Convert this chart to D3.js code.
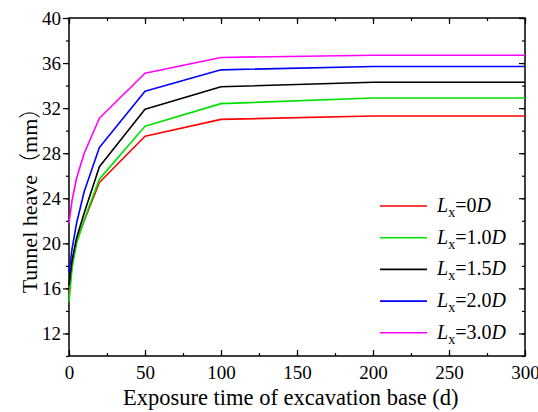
<!DOCTYPE html>
<html>
<head>
<meta charset="utf-8">
<script src="https://cdn.jsdelivr.net/npm/d3@7/dist/d3.min.js"></script>
<style>
  html, body { margin: 0; padding: 0; background: #fff; }
  svg text { font-family: "Liberation Serif", "Times New Roman", "DejaVu Serif", serif; }
</style>
</head>
<body>
<svg id="chart" width="538" height="412"></svg>
<script>
// Exposure time (days)
const days = [0, 2, 5, 10, 20, 50, 100, 200, 300];

// Tunnel heave (mm) for each offset distance
const heave0D  = [15.5, 18.2, 20.2, 22.0, 25.4, 29.5, 31.0, 31.3, 31.3];
const heave10D = [14.8, 17.8, 20.0, 22.1, 25.7, 30.4, 32.4, 32.9, 32.9];
const heave15D = [16.3, 18.5, 20.5, 22.7, 26.8, 31.9, 33.9, 34.3, 34.3];
const heave20D = [17.4, 19.5, 21.8, 24.6, 28.5, 33.5, 35.4, 35.7, 35.7];
const heave30D = [21.8, 23.8, 25.8, 28.0, 31.1, 35.1, 36.5, 36.7, 36.7];

const seriesLabels = ["0", "1.0", "1.5", "2.0", "3.0"];
const seriesColors = ["#ff0000", "#00e000", "#000000", "#0000ff", "#ff00ff"];
const seriesValues = [heave0D, heave10D, heave15D, heave20D, heave30D];

const xTicks = [0, 50, 100, 150, 200, 250, 300];
const yTicks = [12, 16, 20, 24, 28, 32, 36, 40];

const svg = d3.select("#chart");
const m = { left: 69, right: 525, top: 18, bottom: 356 };

const x = d3.scaleLinear().domain([0, 300]).range([m.left, m.right]);
const y = d3.scaleLinear().domain([10, 40]).range([m.bottom, m.top]);

const minorX = d3.range(0, 301, 25);
const minorY = d3.range(10, 41, 2);

// Frame
svg.append("rect")
  .attr("x", m.left).attr("y", m.top)
  .attr("width", m.right - m.left).attr("height", m.bottom - m.top)
  .attr("fill", "none").attr("stroke", "#000").attr("stroke-width", 1.5);

function styleAxis(g) {
  g.attr("font-family", null).attr("font-size", null);
  g.select(".domain").remove();
  g.selectAll("line").attr("stroke", "#000").attr("stroke-width", 1.2);
  g.selectAll("text").attr("font-size", 19).attr("fill", "#000");
}

// Bottom axis: inward ticks
const gB = svg.append("g").attr("transform", `translate(0,${m.bottom})`);
gB.call(d3.axisBottom(x).tickValues(minorX).tickSize(-3).tickFormat(""));
styleAxis(gB);
const gB2 = svg.append("g").attr("transform", `translate(0,${m.bottom})`);
gB2.call(d3.axisBottom(x).tickValues(xTicks).tickSize(-6).tickPadding(10).tickFormat(d3.format("d")));
styleAxis(gB2);

// Top axis: inward ticks, no labels
const gT = svg.append("g").attr("transform", `translate(0,${m.top})`);
gT.call(d3.axisTop(x).tickValues(minorX).tickSize(-3).tickFormat(""));
styleAxis(gT);
const gT2 = svg.append("g").attr("transform", `translate(0,${m.top})`);
gT2.call(d3.axisTop(x).tickValues(xTicks).tickSize(-6).tickFormat(""));
styleAxis(gT2);

// Left axis: outward ticks
const gL = svg.append("g").attr("transform", `translate(${m.left},0)`);
gL.call(d3.axisLeft(y).tickValues(minorY).tickSize(3).tickFormat(""));
styleAxis(gL);
const gL2 = svg.append("g").attr("transform", `translate(${m.left},0)`);
gL2.call(d3.axisLeft(y).tickValues(yTicks).tickSize(6).tickPadding(2).tickFormat(d3.format("d")));
styleAxis(gL2);

// Right axis: inward ticks, no labels
const gR = svg.append("g").attr("transform", `translate(${m.right},0)`);
gR.call(d3.axisRight(y).tickValues(minorY).tickSize(-3).tickFormat(""));
styleAxis(gR);
const gR2 = svg.append("g").attr("transform", `translate(${m.right},0)`);
gR2.call(d3.axisRight(y).tickValues(yTicks).tickSize(-6).tickFormat(""));
styleAxis(gR2);

// Curves (straight segments between computed times)
const line = d3.line().x((d, i) => x(days[i])).y(d => y(d));
svg.append("g").selectAll("path")
  .data(seriesValues)
  .join("path")
  .attr("d", d => line(d))
  .attr("fill", "none")
  .attr("stroke", (d, i) => seriesColors[i])
  .attr("stroke-width", 1.6)
  .attr("stroke-linejoin", "round");

// Legend
const leg = svg.append("g");
seriesLabels.forEach((lab, i) => {
  const yy = 206 + i * 31.7;
  leg.append("line")
    .attr("x1", 380).attr("x2", 427).attr("y1", yy).attr("y2", yy)
    .attr("stroke", seriesColors[i]).attr("stroke-width", 1.6);
  const t = leg.append("text")
    .attr("x", 437).attr("y", yy + 6)
    .attr("font-size", 20).attr("fill", "#000");
  t.append("tspan").attr("font-style", "italic").text("L");
  t.append("tspan").attr("font-size", 14).attr("dy", 5).text("x");
  t.append("tspan").attr("dy", -5).text("=" + lab);
  t.append("tspan").attr("font-style", "italic").text("D");
});

// Axis titles
svg.append("text")
  .attr("x", 123).attr("y", 405)
  .attr("font-size", 22.5).attr("fill", "#000")
  .text("Exposure time of excavation base (d)");

const cjk = "'Noto Sans CJK SC', sans-serif";
const yt = svg.append("text")
  .attr("transform", "translate(37,195) rotate(-90)")
  .attr("text-anchor", "middle").attr("font-size", 22).attr("fill", "#000");
yt.append("tspan").text("Tunnel heave");
yt.append("tspan").attr("font-family", cjk).attr("font-weight", 300).text("（");
yt.append("tspan").text("mm");
yt.append("tspan").attr("font-family", cjk).attr("font-weight", 300).text("）");
</script>
</body>
</html>
